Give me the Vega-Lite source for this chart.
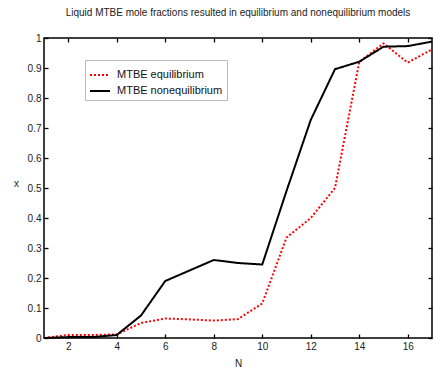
{
  "$schema": "https://vega.github.io/schema/vega-lite/v6.json",
  "autosize": "none",
  "padding": {"left": 44, "top": 38, "right": 6, "bottom": 29},
  "width": 388,
  "height": 300,
  "background": "white",
  "title": {"text": "Liquid MTBE mole fractions resulted in equilibrium and nonequilibrium models", "font": "Liberation Sans", "fontSize": 10, "fontWeight": "normal", "color": "#222", "offset": 15, "anchor": "middle", "dx": 0},
  "data": {"values": [
    {"N": 1, "x": 0.0, "s": "MTBE equilibrium"},
    {"N": 2, "x": 0.01, "s": "MTBE equilibrium"},
    {"N": 3, "x": 0.01, "s": "MTBE equilibrium"},
    {"N": 4, "x": 0.012, "s": "MTBE equilibrium"},
    {"N": 5, "x": 0.05, "s": "MTBE equilibrium"},
    {"N": 6, "x": 0.065, "s": "MTBE equilibrium"},
    {"N": 7, "x": 0.062, "s": "MTBE equilibrium"},
    {"N": 8, "x": 0.058, "s": "MTBE equilibrium"},
    {"N": 9, "x": 0.063, "s": "MTBE equilibrium"},
    {"N": 10, "x": 0.115, "s": "MTBE equilibrium"},
    {"N": 11, "x": 0.335, "s": "MTBE equilibrium"},
    {"N": 12, "x": 0.4, "s": "MTBE equilibrium"},
    {"N": 13, "x": 0.5, "s": "MTBE equilibrium"},
    {"N": 14, "x": 0.92, "s": "MTBE equilibrium"},
    {"N": 15, "x": 0.982, "s": "MTBE equilibrium"},
    {"N": 16, "x": 0.918, "s": "MTBE equilibrium"},
    {"N": 17, "x": 0.962, "s": "MTBE equilibrium"},
    {"N": 1, "x": 0.0, "s": "MTBE nonequilibrium"},
    {"N": 2, "x": 0.003, "s": "MTBE nonequilibrium"},
    {"N": 3, "x": 0.003, "s": "MTBE nonequilibrium"},
    {"N": 4, "x": 0.01, "s": "MTBE nonequilibrium"},
    {"N": 5, "x": 0.075, "s": "MTBE nonequilibrium"},
    {"N": 6, "x": 0.19, "s": "MTBE nonequilibrium"},
    {"N": 7, "x": 0.225, "s": "MTBE nonequilibrium"},
    {"N": 8, "x": 0.26, "s": "MTBE nonequilibrium"},
    {"N": 9, "x": 0.25, "s": "MTBE nonequilibrium"},
    {"N": 10, "x": 0.245, "s": "MTBE nonequilibrium"},
    {"N": 11, "x": 0.49, "s": "MTBE nonequilibrium"},
    {"N": 12, "x": 0.727, "s": "MTBE nonequilibrium"},
    {"N": 13, "x": 0.896, "s": "MTBE nonequilibrium"},
    {"N": 14, "x": 0.921, "s": "MTBE nonequilibrium"},
    {"N": 15, "x": 0.971, "s": "MTBE nonequilibrium"},
    {"N": 16, "x": 0.973, "s": "MTBE nonequilibrium"},
    {"N": 17, "x": 0.988, "s": "MTBE nonequilibrium"}
  ]},
  "config": {
    "view": {"stroke": "black", "strokeWidth": 1.5},
    "axis": {"labelFont": "Liberation Sans", "labelFontSize": 10, "labelColor": "#222", "titleFont": "Liberation Sans", "titleFontSize": 10, "titleFontWeight": "normal", "titleColor": "#222", "grid": false, "domain": false, "tickColor": "black", "tickSize": -4, "tickWidth": 1.3}
  },
  "layer": [
    {
      "mark": {"type": "line", "strokeWidth": 2},
      "encoding": {
        "x": {"field": "N", "type": "quantitative", "scale": {"domain": [1, 17], "nice": false}, "axis": {"title": "N", "values": [2, 4, 6, 8, 10, 12, 14, 16], "labelPadding": 7, "titlePadding": 7}},
        "y": {"field": "x", "type": "quantitative", "scale": {"domain": [0, 1], "nice": false}, "axis": {"title": "x", "values": [0, 0.1, 0.2, 0.3, 0.4, 0.5, 0.6, 0.7, 0.8, 0.9, 1], "labelExpr": "datum.value", "labelPadding": 7, "titleAngle": 0, "titlePadding": 11}},
        "color": {"field": "s", "type": "nominal", "scale": {"range": ["#ff0000", "black"]}, "legend": {"title": null, "orient": "none", "legendX": 41, "legendY": 22, "symbolType": "stroke", "symbolSize": 400, "symbolStrokeWidth": 2, "labelFont": "Liberation Sans", "labelFontSize": 11, "labelColor": "#111", "strokeColor": "#bbb", "padding": 4, "rowPadding": 0, "fillColor": "white", "labelOffset": 6}},
        "strokeDash": {"field": "s", "type": "nominal", "scale": {"range": [[2, 2], [1, 0]]}, "legend": null}
      }
    },
    {
      "mark": {"type": "line", "strokeWidth": 2, "opacity": 0},
      "encoding": {
        "x": {"field": "N", "type": "quantitative", "axis": {"orient": "top", "title": null, "labels": false, "values": [2, 4, 6, 8, 10, 12, 14, 16]}},
        "y": {"field": "x", "type": "quantitative", "axis": {"orient": "right", "title": null, "labels": false, "values": [0, 0.1, 0.2, 0.3, 0.4, 0.5, 0.6, 0.7, 0.8, 0.9, 1]}},
        "detail": {"field": "s"}
      }
    }
  ],
  "resolve": {"axis": {"x": "independent", "y": "independent"}}
}
